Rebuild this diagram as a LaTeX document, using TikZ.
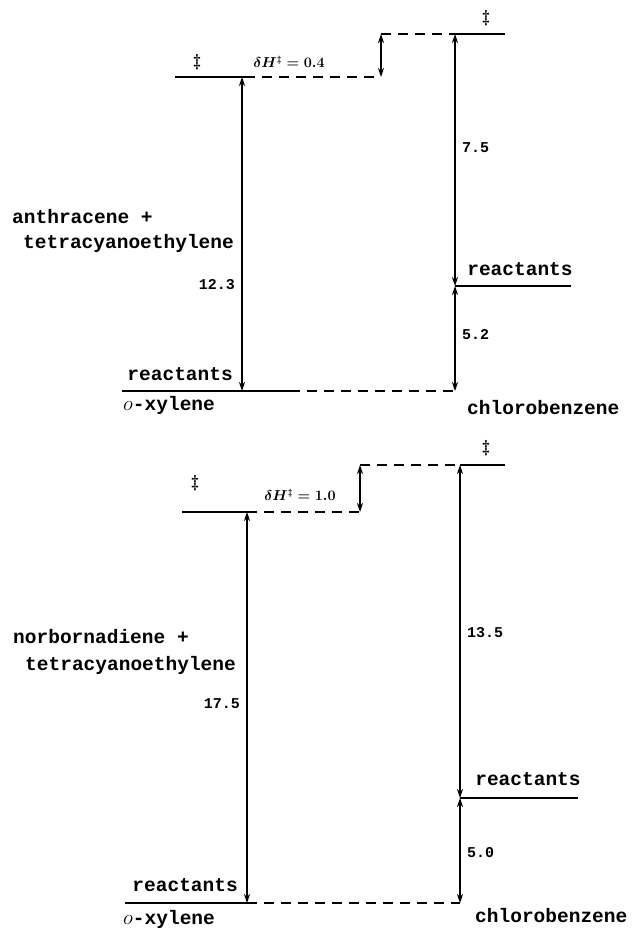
\documentclass[tikz,border=0pt]{standalone}
\usepackage{fontspec}
\setmonofont{Liberation Mono}
\usetikzlibrary{arrows.meta}
\tikzset{
  lbl/.style={font=\fontsize{19.5}{22}\selectfont\ttfamily\bfseries, inner sep=0pt},
  num/.style={font=\fontsize{15}{16}\selectfont\ttfamily\bfseries, inner sep=0pt},
  dd/.style={font=\fontsize{19}{22}\selectfont\boldmath, inner sep=0pt},
  dh/.style={font=\fontsize{13.5}{15}\selectfont\boldmath, inner sep=0pt},
  level/.style={line width=1.8pt},
  guide/.style={line width=1.4pt, dash pattern=on 10pt off 7pt},
  gap/.style={line width=1.1pt, {Stealth[length=9pt,width=6pt]}-{Stealth[length=9pt,width=6pt]}},
}
\begin{document}
\begin{tikzpicture}[x=1pt,y=-1pt]
\useasboundingbox (0,0) rectangle (633,931);

% ---------- anthracene + tetracyanoethylene ----------
\coordinate (a-tsL-w) at (175,77);
\coordinate (a-tsL-e) at (245,77);
\coordinate (a-arL-top) at (242,77);
\coordinate (a-arL-bot) at (242,391);
\coordinate (a-step-lo) at (381,77);
\coordinate (a-step-hi) at (381,34);
\coordinate (a-tsR-w) at (455,34);
\coordinate (a-tsR-e) at (505,34);
\coordinate (a-rR-w) at (455,286);
\coordinate (a-rR-e) at (571,286);
\coordinate (a-rL-w) at (122,391);
\coordinate (a-rL-m) at (290,391);
\coordinate (a-rB) at (455,391);

\draw[level] (a-tsL-w) -- (a-tsL-e);
\draw[guide] (a-tsL-e) -- (a-step-lo);
\draw[guide] (a-step-hi) -- (a-tsR-w);
\draw[level] (a-tsR-w) -- (a-tsR-e);
\draw[level] (a-rR-w) -- (a-rR-e);
\draw[level] (a-rL-w) -- (a-rL-m);
\draw[guide] (a-rL-m) -- (a-rB);
\draw[gap] (a-step-lo) -- (a-step-hi);
\draw[gap] (a-arL-top) -- (a-arL-bot);
\draw[gap] (a-tsR-w) -- (a-rR-w);
\draw[gap] (a-rR-w) -- (a-rB);

\node[dd] (a-dd1) at (197,62) {$\ddagger$};
\node[dh] (a-dh) at (289,62) {$\delta H^{\ddagger} = 0.4$};
\node[dd] (a-dd2) at (486,18) {$\ddagger$};
\node[num, anchor=mid west] (a-n1) at (462,150) {7.5};
\node[lbl, anchor=mid] (a-rR) at (520,273) {reactants};
\node[num, anchor=mid west] (a-n2) at (462,337) {5.2};
\node[lbl, anchor=mid east] (a-rL) at (233,378) {reactants};
\node[lbl, anchor=mid west] (a-ox) at (123,408) {$o$-xylene};
\node[lbl, anchor=mid west] (a-cb) at (467,412) {chlorobenzene};
\node[lbl, anchor=mid west] (a-s1) at (12,221) {anthracene +};
\node[lbl, anchor=mid west] (a-s2) at (23,246) {tetracyanoethylene};
\node[num, anchor=mid east] (a-n3) at (235,287) {12.3};

% ---------- norbornadiene + tetracyanoethylene ----------
\coordinate (b-tsL-w) at (182,512);
\coordinate (b-tsL-e) at (247,512);
\coordinate (b-arL-top) at (247,512);
\coordinate (b-arL-bot) at (247,903);
\coordinate (b-step-lo) at (360,512);
\coordinate (b-step-hi) at (360,465);
\coordinate (b-tsR-w) at (460,465);
\coordinate (b-tsR-e) at (505,465);
\coordinate (b-rR-w) at (460,798);
\coordinate (b-rR-e) at (578,798);
\coordinate (b-rL-w) at (125,903);
\coordinate (b-rB) at (460,903);

\draw[level] (b-tsL-w) -- (b-tsL-e);
\draw[guide] (b-tsL-e) -- (b-step-lo);
\draw[guide] (b-step-hi) -- (b-tsR-w);
\draw[level] (b-tsR-w) -- (b-tsR-e);
\draw[level] (b-rR-w) -- (b-rR-e);
\draw[level] (b-rL-w) -- (b-arL-bot);
\draw[guide] (b-arL-bot) -- (b-rB);
\draw[gap] (b-step-lo) -- (b-step-hi);
\draw[gap] (b-arL-top) -- (b-arL-bot);
\draw[gap] (b-tsR-w) -- (b-rR-w);
\draw[gap] (b-rR-w) -- (b-rB);

\node[dd] (b-dd1) at (195,483) {$\ddagger$};
\node[dh] (b-dh) at (300,495) {$\delta H^{\ddagger} = 1.0$};
\node[dd] (b-dd2) at (486,448) {$\ddagger$};
\node[num, anchor=mid west] (b-n1) at (467,635) {13.5};
\node[lbl, anchor=mid] (b-rR) at (528,783) {reactants};
\node[num, anchor=mid west] (b-n2) at (467,855) {5.0};
\node[lbl, anchor=mid east] (b-rL) at (238,889) {reactants};
\node[lbl, anchor=mid west] (b-ox) at (123,922) {$o$-xylene};
\node[lbl, anchor=mid west] (b-cb) at (475,920) {chlorobenzene};
\node[lbl, anchor=mid west] (b-s1) at (13,641) {norbornadiene +};
\node[lbl, anchor=mid west] (b-s2) at (25,668) {tetracyanoethylene};
\node[num, anchor=mid east] (b-n3) at (240,706) {17.5};
\end{tikzpicture}
\end{document}
